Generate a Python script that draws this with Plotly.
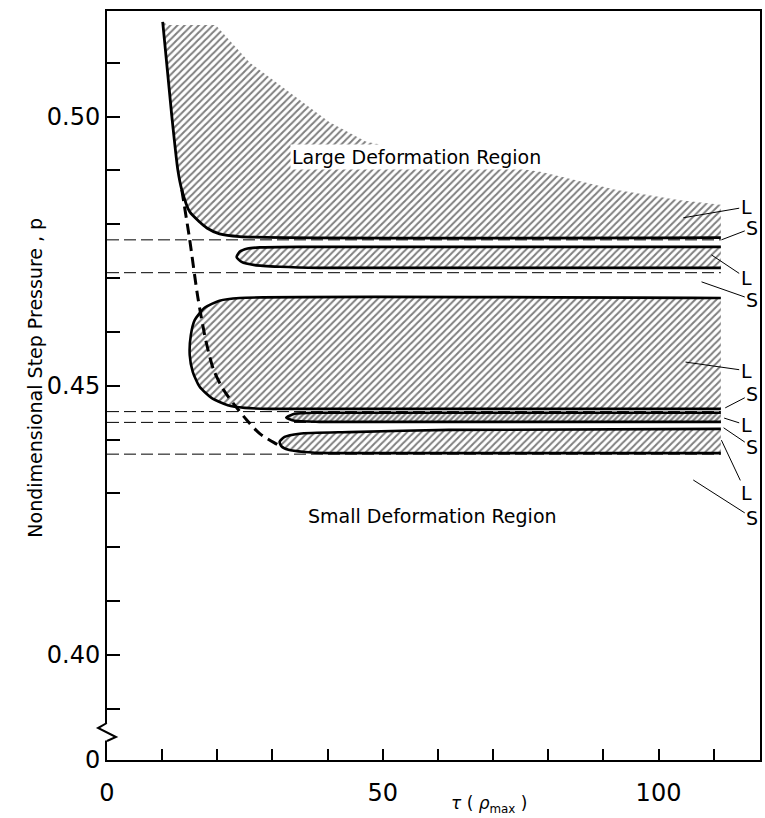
import plotly.graph_objects as go

# ---- tau (rho_max) / p values of the region boundaries ----
# Large deformation region above the first threshold: hatched edge (no line)
r1_top_x = [111.3, 103.6, 92.2, 78.8, 62.0, 47.0, 40.3, 34.9, 25.9, 19.7, 11.0]
r1_top_p = [0.4836, 0.4845, 0.4864, 0.4897, 0.4923, 0.4953, 0.4990, 0.5031, 0.5100, 0.5170, 0.5170]
# Solid boundary of that region (left branch + lower edge)
r1_edge_x = [10.1, 11.75, 12.84, 13.56, 15.0, 16.8, 18.1, 20.4, 24.05, 111.3]
r1_edge_p = [0.5176, 0.5001, 0.4901, 0.4864, 0.4823, 0.4804, 0.4793, 0.4782, 0.4777, 0.4775]

# Thin tongue between 0.472 and 0.476
tongue_x = [111.3, 34.9, 27.7, 25.5, 24.05, 23.5, 24.4, 26.8, 31.3, 38.5, 111.3]
tongue_p = [0.4758, 0.4758, 0.4757, 0.4755, 0.4749, 0.4739, 0.4730, 0.4724, 0.4721, 0.4719, 0.4719]

# Middle large-deformation band
mid_x = [111.3, 24.05, 20.4, 17.7, 15.9, 15.2, 15.0, 15.55, 16.8, 19.0, 21.9, 25.0, 29.5, 111.3]
mid_p = [0.4663, 0.4663, 0.4658, 0.4645, 0.4622, 0.4594, 0.4557, 0.4526, 0.4498, 0.4477, 0.4464, 0.4459, 0.4457, 0.4457]

# Very narrow band near p = 0.444
band_x = [111.3, 38.5, 34.0, 32.5, 34.0, 38.5, 111.3]
band_p = [0.4450, 0.4450, 0.4448, 0.4441, 0.4435, 0.4433, 0.4433]

# Lowest band
low_x = [111.3, 62.0, 43.9, 34.9, 32.2, 31.3, 31.6, 32.9, 35.8, 40.3, 111.3]
low_p = [0.4420, 0.4418, 0.4414, 0.4411, 0.4405, 0.4396, 0.4388, 0.4381, 0.4377, 0.4375, 0.4375]

# Long-dash threshold curve
crit_x = [13.56, 15.0, 16.46, 17.9, 19.35, 21.16, 23.15, 25.3, 27.7, 30.7, 31.8]
crit_p = [0.4864, 0.4771, 0.4665, 0.4585, 0.4529, 0.4492, 0.4464, 0.4437, 0.4411, 0.4392, 0.4386]

# Horizontal asymptotes (thin dashed)
asym_p = [0.4771, 0.4710, 0.4452, 0.4432, 0.4373]
asym_x = [0, 111.3]

# Right-hand L / S labels: (text, tip tau, tip p)
tag_text = ["L", "S", "L", "S", "L", "S", "L", "S", "L", "S"]
tag_tip_x = [104.5, 111.4, 109.6, 107.8, 104.9, 112.1, 111.9, 111.8, 111.4, 106.3]
tag_tip_p = [0.4812, 0.4771, 0.4743, 0.4693, 0.4544, 0.4459, 0.4440, 0.4422, 0.4399, 0.4325]
tag_txt_p = [0.4832, 0.4793, 0.4700, 0.4660, 0.4528, 0.4485, 0.4427, 0.4386, 0.4301, 0.4255]

# Axis ticks
x_tickvals = [0, 10, 20, 30, 40, 50, 60, 70, 80, 90, 100, 110]
x_ticktext = ["0", "", "", "", "", "50", "", "", "", "", "100", ""]
y_bottom = 0.3805
y_tickvals = [y_bottom, 0.39, 0.40, 0.41, 0.42, 0.43, 0.44, 0.45, 0.46, 0.47, 0.48, 0.49, 0.50, 0.51]
y_ticktext = ["0", "", "0.40", "", "", "", "", "0.45", "", "", "", "", "0.50", ""]

FONT = "DejaVu Sans"
hatch = dict(shape="/", fgcolor="black", bgcolor="white", size=5, solidity=0.4)
dense = dict(shape="/", fgcolor="black", bgcolor="white", size=4, solidity=0.55)

fig = go.Figure()

# hatched fills
fig.add_trace(go.Scatter(x=r1_top_x + r1_edge_x, y=r1_top_p + r1_edge_p, fill="toself",
                         mode="none", fillcolor="white", fillpattern=hatch, hoverinfo="skip"))
for xs, ps, pat in [(tongue_x, tongue_p, hatch), (mid_x, mid_p, hatch),
                    (band_x, band_p, dense), (low_x, low_p, hatch)]:
    fig.add_trace(go.Scatter(x=xs, y=ps, fill="toself", mode="none", fillcolor="white",
                             fillpattern=pat, hoverinfo="skip", line_shape="spline",
                             line_smoothing=0.6))

# thin dashed asymptotes
for p in asym_p:
    fig.add_trace(go.Scatter(x=asym_x, y=[p, p], mode="lines",
                             line=dict(color="black", width=1, dash="12px,5px"), hoverinfo="skip"))

# solid outlines
fig.add_trace(go.Scatter(x=r1_edge_x, y=r1_edge_p, mode="lines", line_shape="spline",
                         line=dict(color="black", width=2.8, smoothing=0.6), hoverinfo="skip"))
for xs, ps in [(tongue_x, tongue_p), (mid_x, mid_p), (band_x, band_p), (low_x, low_p)]:
    fig.add_trace(go.Scatter(x=xs, y=ps, mode="lines", line_shape="spline",
                             line=dict(color="black", width=2.6, smoothing=0.6), hoverinfo="skip"))

# long-dash threshold curve
fig.add_trace(go.Scatter(x=crit_x, y=crit_p, mode="lines", line_shape="spline",
                         line=dict(color="black", width=3, dash="11px,6px", smoothing=0.8),
                         hoverinfo="skip"))

annotations = [
    dict(x=56.2, y=0.4925, text="Large Deformation Region", showarrow=False,
         bgcolor="white", font=dict(family=FONT, size=19, color="black")),
    dict(x=59.1, y=0.4258, text="Small Deformation Region", showarrow=False,
         font=dict(family=FONT, size=19, color="black")),
    dict(x=69.3, y=y_bottom, yshift=-44, text="<i>τ</i> ( <i>ρ</i><sub>max</sub> )",
         showarrow=False, font=dict(family=FONT, size=17, color="black")),
    dict(xref="x domain", x=0, xshift=-85, y=0.4515, text="Nondimensional Step Pressure , p",
         textangle=-90, showarrow=False, font=dict(family=FONT, size=19, color="black")),
]
for t, tx, tp, lp in zip(tag_text, tag_tip_x, tag_tip_p, tag_txt_p):
    annotations.append(dict(x=tx, y=tp, ax=115.9 if t == "L" else 117.0, ay=lp,
                            axref="x", ayref="y", text=t, showarrow=True, arrowhead=0,
                            arrowwidth=1, arrowcolor="black", standoff=0,
                            font=dict(family=FONT, size=19, color="black")))

fig.update_layout(
    width=765, height=818,
    margin=dict(l=107, r=3, t=11, b=58),
    paper_bgcolor="white", plot_bgcolor="white",
    showlegend=False,
    annotations=annotations,
    shapes=[
        # axis break on the p axis
        dict(type="rect", xref="paper", yref="paper", x0=-0.012, x1=0.012, y0=0.026, y1=0.049,
             fillcolor="white", line_width=0, layer="above"),
        dict(type="path", xref="paper", yref="paper",
             path="M -0.0003 0.0494 L -0.0137 0.0427 L 0.0137 0.0307 L 0.0 0.0254",
             line=dict(color="black", width=2), layer="above"),
    ],
    xaxis=dict(range=[0, 118.4], tickvals=x_tickvals, ticktext=x_ticktext,
               ticks="inside", ticklen=11, tickwidth=1.5, tickcolor="black",
               showline=True, linecolor="black", linewidth=2, mirror=True,
               showgrid=False, zeroline=False, ticklabelstandoff=10,
               tickfont=dict(family=FONT, size=24, color="black")),
    yaxis=dict(range=[y_bottom, 0.5196], tickvals=y_tickvals, ticktext=y_ticktext,
               ticks="inside", ticklen=13, tickwidth=1.5, tickcolor="black",
               showline=True, linecolor="black", linewidth=2, mirror=True,
               showgrid=False, zeroline=False,
               tickfont=dict(family=FONT, size=24, color="black")),
)

fig.write_html("out.html")
